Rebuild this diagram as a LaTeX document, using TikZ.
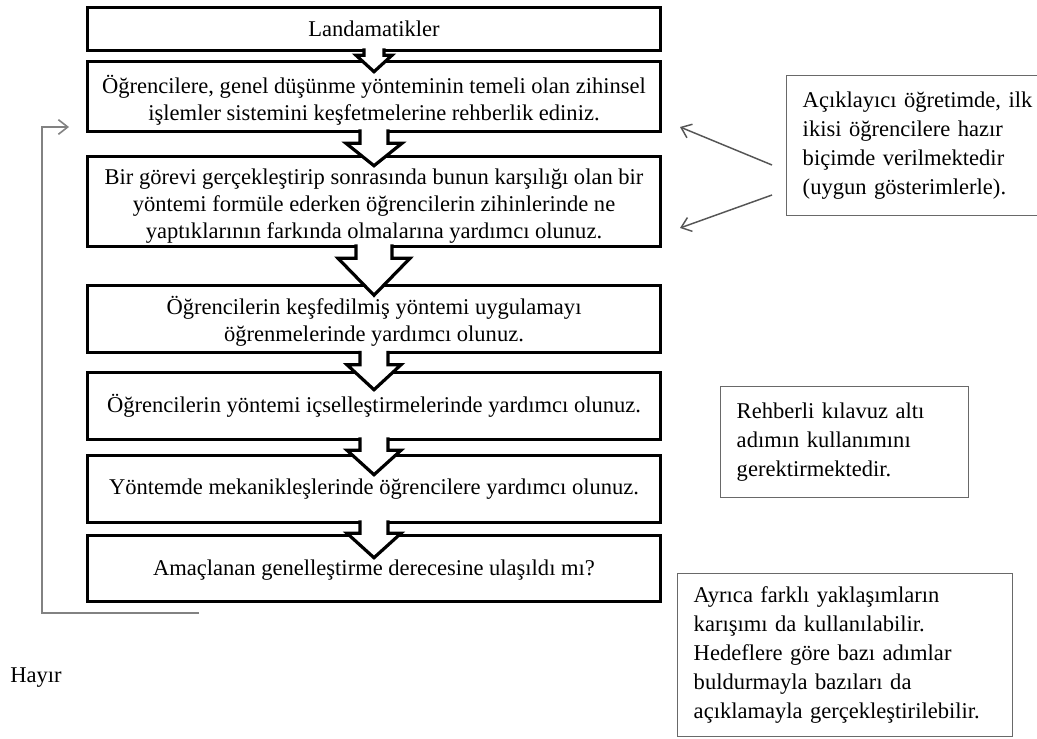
\documentclass[tikz,border=0pt]{standalone}
\usepackage{fontspec}
\setmainfont{Liberation Serif}
\usetikzlibrary{arrows.meta,calc}
\pgfdeclarelayer{back}
\pgfsetlayers{back,main}
\definecolor{sidegray}{RGB}{105,105,105}
\definecolor{linegray}{RGB}{130,130,130}
\definecolor{arrgray}{RGB}{85,85,85}
\tikzset{
  mainbox/.style={minimum width=429pt, inner sep=0pt, align=center,
    font=\fontsize{16.9}{20.25}\selectfont},
  boxborder/.style={draw=black, line width=2.4pt, fill=white},
  sidebox/.style={draw=sidegray, line width=1.1pt, anchor=north west, inner xsep=12pt,
    inner ysep=0pt, align=left, font=\fontsize{16.9}{21.75}\selectfont},
  blockarrow/.style={draw=black, line width=2.4pt, fill=white, line join=miter},
  fbline/.style={draw=linegray, line width=1.2pt},
  sidearrow/.style={draw=arrgray, line width=1.1pt, -{Straight Barb[length=7pt,width=11pt]}},
  plaintext/.style={inner sep=0pt, font=\fontsize{16.9}{20.25}\selectfont}
}
\newcommand\blockarr[6]{%
  \draw[blockarrow] ($(#1.south)+(-#3,-2)$) -- ($(#1.south)+(-#3,#5)$)
    -- ($(#1.south)+(-#4,#5)$) -- ($(#2.north)+(0,#6)$)
    -- ($(#1.south)+(#4,#5)$) -- ($(#1.south)+(#3,#5)$) -- ($(#1.south)+(#3,-2)$);}
\newcommand\lowered[2]{\raisebox{-#1}[\height][\depth]{\begin{tabular}{@{}c@{}}#2\end{tabular}}}
\begin{document}
\begin{tikzpicture}[x=0.75pt,y=-0.75pt]
\path[use as bounding box, clip] (0,0) rectangle (1037,738);
\begin{pgfonlayer}{back}
\fill[white] (0,0) rectangle (1037,738);
\end{pgfonlayer}

% main flow boxes (text on top layer)
\node[mainbox, minimum height=31.5pt]  (b1) at (374,29)    {Landamatikler};
\node[mainbox, minimum height=51.75pt] (b2) at (374,96.5)  {\lowered{3.5pt}{Öğrencilere, genel düşünme yönteminin temeli olan zihinsel\\işlemler sistemini keşfetmelerine rehberlik ediniz.}};
\node[mainbox, minimum height=66.75pt] (b3) at (374,201.5) {\lowered{3.5pt}{Bir görevi gerçekleştirip sonrasında bunun karşılığı olan bir\\yöntemi formüle ederken öğrencilerin zihinlerinde ne\\yaptıklarının farkında olmalarına yardımcı olunuz.}};
\node[mainbox, minimum height=50.25pt] (b4) at (374,319)   {\lowered{2.5pt}{Öğrencilerin keşfedilmiş yöntemi uygulamayı\\öğrenmelerinde yardımcı olunuz.}};
\node[mainbox, minimum height=49.5pt]  (b5) at (374,406)   {Öğrencilerin yöntemi içselleştirmelerinde yardımcı olunuz.};
\node[mainbox, minimum height=49.5pt]  (b6) at (374,489)   {Yöntemde mekanikleşlerinde öğrencilere yardımcı olunuz.};
\node[mainbox, minimum height=48.75pt] (b7) at (374,568.5) {\lowered{1.5pt}{Amaçlanan genelleştirme derecesine ulaşıldı mı?}};

\begin{pgfonlayer}{back}
\foreach \b in {b1,b2,b3,b4,b5,b6,b7}
  \draw[boxborder] (\b.south west) rectangle (\b.north east);
% block arrows
\blockarr{b1}{b2}{10}{18}{5}{10}
\blockarr{b2}{b3}{14}{28}{12}{9}
\blockarr{b3}{b4}{18}{36}{12}{10}
\blockarr{b4}{b5}{14}{27}{12}{17}
\blockarr{b5}{b6}{14}{27}{11}{19}
\blockarr{b6}{b7}{14}{27}{11}{22}
\end{pgfonlayer}

% feedback loop
\coordinate (fbstart) at (199,613);
\coordinate (fbtip) at (69,127);
\draw[fbline, -{Straight Barb[length=7pt,width=11pt]}] (fbstart) -- (42,613) |- (fbtip);
\node[plaintext, anchor=west] (hayir) at (10,678) {Hayır};

% side notes
\node[sidebox, minimum width=198pt, minimum height=105pt, text width=174pt] (r1) at (786,75)
  {Açıklayıcı öğretimde, ilk\\ikisi öğrencilere hazır\\biçimde verilmektedir\\(uygun gösterimlerle).};
\node[sidebox, minimum width=186pt, minimum height=83.25pt, text width=162pt] (r2) at (720,386)
  {Rehberli kılavuz altı\\adımın kullanımını\\gerektirmektedir.};
\node[sidebox, minimum width=251.25pt, minimum height=122.25pt, text width=227.25pt] (r3) at (677,573)
  {Ayrıca farklı yaklaşımların\\karışımı da kullanılabilir.\\Hedeflere göre bazı adımlar\\buldurmayla bazıları da\\açıklamayla gerçekleştirilebilir.};

% arrows from the first note
\coordinate (n1a) at (772,165);
\coordinate (n1b) at (772,195);
\coordinate (t1) at (680,127);
\coordinate (t2) at (680,228);
\draw[sidearrow] (n1a) -- (t1);
\draw[sidearrow] (n1b) -- (t2);
\end{tikzpicture}
\end{document}
